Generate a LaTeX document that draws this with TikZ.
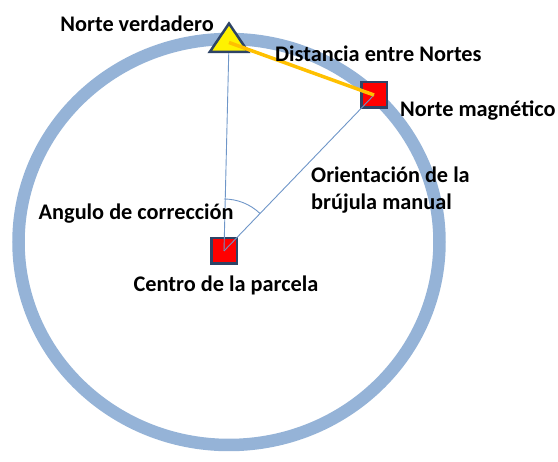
\documentclass[tikz,border=0pt]{standalone}
\usepackage{fontspec}
\setmainfont{Carlito}
\usetikzlibrary{shapes.geometric}
\definecolor{ringblue}{HTML}{95B3D7}
\definecolor{rayblue}{HTML}{6F96C8}
\definecolor{edgeslate}{HTML}{2E4466}
\definecolor{distorange}{HTML}{FFC000}

\begin{document}
\begin{tikzpicture}[
    x=1pt, y=-1pt,
    marker/.style    = {draw=edgeslate, line width=2.5pt, fill=red,
                        minimum size=25.5pt, inner sep=0pt},
    truenorth/.style = {regular polygon, regular polygon sides=3,
                        draw=edgeslate, line width=2.5pt, fill=yellow,
                        minimum size=38pt, inner sep=0pt, xscale=1.17},
    lbl/.style       = {font=\fontsize{22.3}{27}\selectfont\bfseries,
                        inner sep=0pt, align=left},
    ray/.style       = {rayblue, line width=0.9pt},
    gap/.style       = {distorange, line width=3.5pt},
]

\useasboundingbox (0,0) rectangle (558,462);

% --- the plot boundary -------------------------------------------------
\draw[ringblue, line width=12.5pt] (229,242) ellipse [x radius=210.5, y radius=203];

% --- the three markers -------------------------------------------------
\node[truenorth] (vnorth) at (229,42.5) {};
\node[marker]    (mnorth) at (374,95)   {};
\node[marker]    (centro) at (224,251)  {};

% --- rays from the centre, angle and distance --------------------------
% (y axis points down, so angles run the other way round)
\draw[ray] (centro.center) -- (vnorth);
\draw[ray] (centro.center) -- (mnorth.center);
\draw[ray] (centro.center) ++(0,-52) arc[start angle=-90, end angle=-46, radius=52];
\draw[gap] (vnorth.center) -- (mnorth.center);

% --- labels ------------------------------------------------------------
\node[lbl, anchor=base east] (lblvn)     at (214,32)   {Norte verdadero};
\node[lbl, anchor=base west] (lbldist)   at (275,62)   {Distancia entre Nortes};
\node[lbl, anchor=base west] (lblmn)     at (400,117)  {Norte magnético};
\node[lbl, anchor=base west] (lblorient) at (311,210)  {Orientación de la\\brújula manual};
\node[lbl, anchor=base west] (lblangle)  at (38.5,220) {Angulo de corrección};
\node[lbl, anchor=base]      (lblcentro) at (226,292)  {Centro de la parcela};

\end{tikzpicture}
\end{document}
